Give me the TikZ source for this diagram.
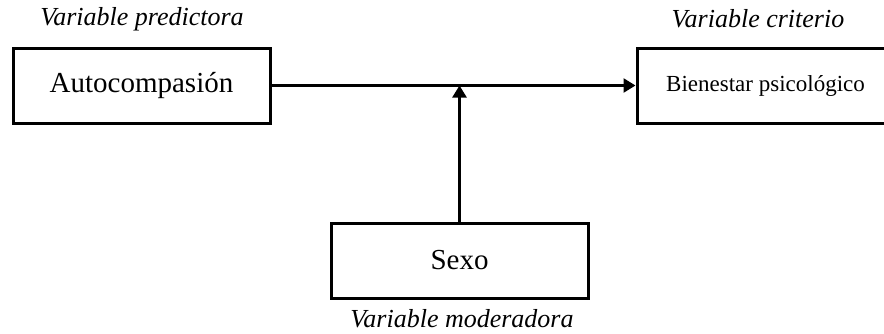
\documentclass[tikz,border=0pt]{standalone}
\usepackage{fontspec}
\setmainfont{Liberation Serif}
\usetikzlibrary{arrows.meta}
\begin{document}
\begin{tikzpicture}[x=1pt,y=1pt,
  varbox/.style={draw=black, line width=3pt, fill=white, minimum width=257pt, minimum height=75pt, inner sep=0pt},
  lbl/.style={font=\fontsize{26}{30}\selectfont\itshape, inner sep=0pt},
  conn/.style={line width=2.5pt, -{Triangle[length=12pt,width=14pt]}}]
\useasboundingbox (0,0) rectangle (884,333);
\node[varbox, font=\fontsize{29}{34}\selectfont] (auto) at (141.5,247.5) {Autocompasión};
\node[varbox, font=\fontsize{23}{28}\selectfont] (bien) at (765.5,247.5) {Bienestar psicológico};
\node[varbox, font=\fontsize{29}{34}\selectfont] (sexo) at (459.5,72.5) {Sexo};
\node[lbl] (l1) at (142,314) {Variable predictora};
\node[lbl] (l2) at (758,314) {Variable criterio};
\node[lbl] (l3) at (462,14) {Variable moderadora};
\coordinate (m) at (459.5,247.5);
\draw[conn] (auto.east) -- (bien.west);
\draw[conn] (sexo.north) -- (m);
\end{tikzpicture}
\end{document}
